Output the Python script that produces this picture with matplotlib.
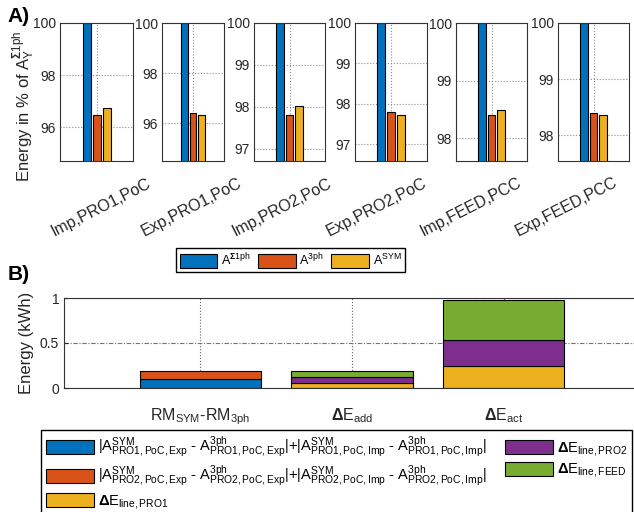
import matplotlib
matplotlib.use('Agg')
from matplotlib import pyplot as plt

plt.rcParams['font.family'] = ['Liberation Sans', 'DejaVu Sans']
plt.rcParams['mathtext.fontset'] = 'custom'
plt.rcParams['mathtext.rm'] = 'Liberation Sans'
plt.rcParams['mathtext.it'] = 'Liberation Sans:italic'
plt.rcParams['mathtext.bf'] = 'Liberation Sans:bold'
plt.rcParams['mathtext.default'] = 'regular'

# panel A: energy relative to the summed single-phase value
cases = ['Imp,PRO1,PoC', 'Exp,PRO1,PoC', 'Imp,PRO2,PoC',
         'Exp,PRO2,PoC', 'Imp,FEED,PCC', 'Exp,FEED,PCC']
a_1ph = [100, 100, 100, 100, 100, 100]
a_3ph = [96.46, 96.42, 97.80, 97.80, 98.41, 98.39]
a_sym = [96.72, 96.33, 98.03, 97.72, 98.49, 98.36]
y_bottom = [94.7, 94.5, 96.71, 96.59, 97.61, 97.54]
y_ticks = [[96, 98, 100], [96, 98, 100], [97, 98, 99, 100],
           [97, 98, 99, 100], [98, 99, 100], [98, 99, 100]]

# panel B: energy differences in kWh
groups = [r'$RM_{SYM}$-$RM_{3ph}$', r'$\mathbf{\Delta}E_{add}$', r'$\mathbf{\Delta}E_{act}$']
rm_pro1 = 0.095
rm_pro2 = 0.089
line_pro1 = [0.058, 0.248]
line_pro2 = [0.062, 0.285]
line_feed = [0.064, 0.447]

blue = '#0072BD'
orange = '#D95319'
yellow = '#EDB120'
purple = '#7E2F8E'
green = '#77AC30'

W, H = 634, 512
fig = plt.figure(figsize=(W / 100, H / 100), dpi=100)


def px_axes(l, r, t, b):
    return fig.add_axes([l / W, 1 - b / H, (r - l) / W, (b - t) / H])


def style(ax):
    for s in ax.spines.values():
        s.set_color('0.2')
        s.set_linewidth(0.8)
    ax.set_axisbelow(True)


lefts = [60, 162, 254, 355, 456, 558]
rights = [133, 224, 325, 427, 527, 629]
bar_kw = dict(width=0.8, edgecolor='black', linewidth=0.8)
top_axes = []
for i in range(6):
    ax = px_axes(lefts[i], rights[i], 23, 161)
    b1 = ax.bar(-1, a_1ph[i], color=blue, **bar_kw)
    b2 = ax.bar(0, a_3ph[i], color=orange, **bar_kw)
    b3 = ax.bar(1, a_sym[i], color=yellow, **bar_kw)
    ax.set_xlim(-3.65, 3.65)
    ax.set_ylim(y_bottom[i], 100)
    ax.set_yticks(y_ticks[i])
    ax.set_xticks([0])
    ax.set_xticklabels([''])
    ax.tick_params(length=0, labelsize=10, colors='0.15', pad=3)
    ax.grid(True, ls=':', color='0.55', lw=0.8)
    style(ax)
    top_axes.append(ax)
    if i == 0:
        top_handles = [b1, b2, b3]
    # slanted case name under each panel
    cx = (lefts[i] + rights[i]) / 2
    fig.text((0.936 * cx + 11) / W, 1 - 207 / H, cases[i], rotation=27,
             ha='center', va='center', fontsize=11.5, color='0.15')

top_axes[0].set_ylabel(r'Energy in % of $A_{Y}^{\mathbf{\Sigma}1ph}$', fontsize=12, color='0.15')
top_axes[0].yaxis.set_label_coords(-0.31, 0.40)

fig.legend(top_handles, [r'$A^{\mathbf{\Sigma}1ph}$', r'$A^{3ph}$', r'$A^{SYM}$'],
           loc='center', bbox_to_anchor=(290.5 / W, 1 - 260 / H), ncol=3, fontsize=9,
           handlelength=3, handleheight=1.3, handletextpad=0.3, columnspacing=0.6,
           borderpad=0.3, fancybox=False, edgecolor='black', framealpha=1)

fig.text(7 / W, 1 - 16 / H, 'A)', fontsize=15, fontweight='bold', va='center')
fig.text(8 / W, 1 - 274 / H, 'B)', fontsize=15, fontweight='bold', va='center')

# stacked bars
ax = px_axes(64, 640, 298, 388)
x = [1, 2, 3]
h1 = ax.bar(x[0], rm_pro1, color=blue, **bar_kw)
h2 = ax.bar(x[0], rm_pro2, bottom=rm_pro1, color=orange, **bar_kw)
h3 = ax.bar(x[1:], line_pro1, color=yellow, **bar_kw)
bot = line_pro1
h4 = ax.bar(x[1:], line_pro2, bottom=bot, color=purple, **bar_kw)
bot = [a + b for a, b in zip(line_pro1, line_pro2)]
h5 = ax.bar(x[1:], line_feed, bottom=bot, color=green, **bar_kw)
ax.set_xlim(0.1, 3.9)
ax.set_ylim(0, 1)
ax.set_xticks(x)
ax.set_xticklabels(groups)
ax.set_yticks([0, 0.5, 1])
ax.set_yticklabels(['0', '0.5', '1'])
ax.tick_params(direction='in', length=3, labelsize=10, colors='0.15')
ax.tick_params(axis='x', pad=13, labelsize=11.5)
ax.grid(True, axis='x', ls=':', color='0.4', lw=0.8)
ax.grid(True, axis='y', ls=(0, (4, 1.5, 1, 1.5)), color='0.45', lw=0.8)
ax.set_ylabel('Energy (kWh)', fontsize=12, color='0.15', labelpad=4)
style(ax)

lab1 = (r'$|A^{SYM}_{PRO1,PoC,Exp}$ - $A^{3ph}_{PRO1,PoC,Exp}|$+'
        r'$|A^{SYM}_{PRO1,PoC,Imp}$ - $A^{3ph}_{PRO1,PoC,Imp}|$')
lab2 = (r'$|A^{SYM}_{PRO2,PoC,Exp}$ - $A^{3ph}_{PRO2,PoC,Exp}|$+'
        r'$|A^{SYM}_{PRO2,PoC,Imp}$ - $A^{3ph}_{PRO2,PoC,Imp}|$')
labels = [lab1, lab2, r'$\mathbf{\Delta}E_{line,PRO1}$',
          r'$\mathbf{\Delta}E_{line,PRO2}$', r'$\mathbf{\Delta}E_{line,FEED}$']
fig.legend([h1, h2, h3, h4, h5], labels, loc='upper left',
           bbox_to_anchor=(41 / W, 1 - 430 / H), borderaxespad=0, ncol=2, fontsize=10.5,
           handlelength=3.3, handleheight=1.1, handletextpad=0.25, columnspacing=1.3,
           labelspacing=0.25, borderpad=0.35, fancybox=False, edgecolor='black', framealpha=1)

fig.savefig('out.png', dpi=100)
